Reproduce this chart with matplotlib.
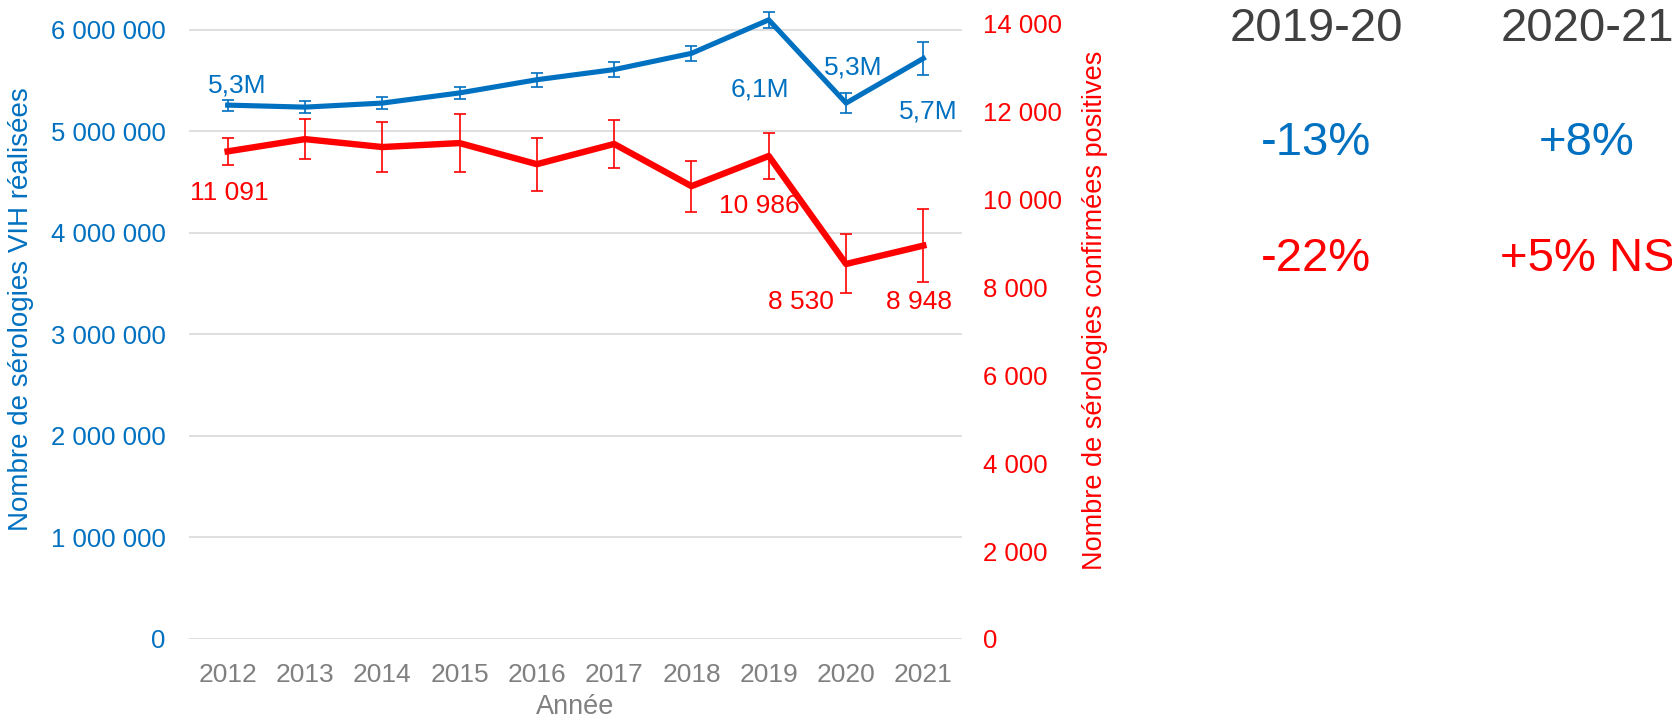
import matplotlib
matplotlib.use('Agg')
import matplotlib.pyplot as plt
from matplotlib.ticker import FuncFormatter, MultipleLocator

plt.rcParams['font.family'] = ['Liberation Sans', 'DejaVu Sans']

BLUE = '#0070C0'
RED = '#FF0000'
GRAY = '#808080'
DARK = '#404040'

years = [2012, 2013, 2014, 2015, 2016, 2017, 2018, 2019, 2020, 2021]
tests = [5.26e6, 5.24e6, 5.28e6, 5.38e6, 5.51e6, 5.61e6, 5.77e6, 6.10e6, 5.28e6, 5.72e6]
tests_err = [54e3, 60e3, 55e3, 57e3, 69e3, 74e3, 77e3, 77e3, 95e3, 161e3]
positives = [11091, 11370, 11190, 11280, 10800, 11260, 10300, 10986, 8530, 8948]
positives_err = [303, 447, 569, 667, 599, 553, 580, 520, 671, 823]

# labelled points: (year, text, offset in pixels)
blue_labels = [(2012, '5,3M', (10, 20)), (2019, '6,1M', (-9, -70)),
               (2020, '5,3M', (7, 36)), (2021, '5,7M', (5, -53))]
red_labels = [(2012, (2, -42)), (2019, (-9, -50)), (2020, (-45, -38)), (2021, (-4, -56))]

periods = ['2019-20', '2020-21']
change_tests = ['-13%', '+8%']
change_pos = ['-22%', '+5% NS']


def spaced(v, pos=None):
    return f'{int(round(v)):,}'.replace(',', ' ')


fig = plt.figure(figsize=(16.72, 7.21), dpi=100)
ax = fig.add_axes([189 / 1672, 82 / 721, 773 / 1672, 615.5 / 721])
ax2 = ax.twinx()

eb1 = ax.errorbar(years, tests, yerr=tests_err, color=BLUE, lw=3.7, ecolor=BLUE,
                  elinewidth=1.2, capsize=4, capthick=1.2, zorder=3)
eb2 = ax2.errorbar(years, positives, yerr=positives_err, color=RED, lw=4.6, ecolor=RED,
                   elinewidth=1.2, capsize=4, capthick=1.2, zorder=3)
for eb in (eb1, eb2):
    for art in eb.get_children():
        art.set_clip_on(False)

ax.set_xlim(2011.5, 2021.5)
ax.set_ylim(0, 6.064e6)
ax2.set_ylim(0, 14000)
ax.yaxis.set_major_locator(MultipleLocator(1e6))
ax2.yaxis.set_major_locator(MultipleLocator(2000))
ax.yaxis.set_major_formatter(FuncFormatter(spaced))
ax2.yaxis.set_major_formatter(FuncFormatter(spaced))
ax.set_xticks(years)

ax.grid(axis='y', color='#d9d9d9', lw=1.2)
ax.set_axisbelow(True)
for a in (ax, ax2):
    for s in a.spines.values():
        s.set_visible(False)

ax.tick_params(axis='y', length=0, pad=17, labelsize=18.5, labelcolor=BLUE)
ax.tick_params(axis='x', length=0, pad=17, labelsize=19, labelcolor=GRAY)
ax2.tick_params(axis='y', length=0, pad=15, labelsize=18.5, labelcolor=RED)

ax.set_xlabel('Année', fontsize=19.5, color=GRAY, labelpad=5)
ax.set_ylabel('Nombre de sérologies VIH réalisées', fontsize=20, color=BLUE)
ax2.set_ylabel('Nombre de sérologies confirmées positives', fontsize=19.5, color=RED)
ax.yaxis.set_label_coords(34 / 1672, 1 - 309 / 721, transform=fig.transFigure)
ax2.yaxis.set_label_coords(1082 / 1672, 1 - 310 / 721, transform=fig.transFigure)

for yr, txt, off in blue_labels:
    i = years.index(yr)
    ax.annotate(txt, (yr, tests[i]), xytext=off, textcoords='offset pixels',
                ha='center', va='center', fontsize=19, color=BLUE,
                annotation_clip=False)
for yr, off in red_labels:
    i = years.index(yr)
    ax2.annotate(spaced(positives[i]), (yr, positives[i]), xytext=off,
                 textcoords='offset pixels', ha='center', va='center',
                 fontsize=19, color=RED, annotation_clip=False)

col_x = [1316 / 1672, 1587 / 1672]
for x, p, ct, cp in zip(col_x, periods, change_tests, change_pos):
    fig.text(x, 1 - 29 / 721, p, ha='center', va='center', fontsize=34, color=DARK)
    fig.text(x, 1 - 143 / 721, ct, ha='center', va='center', fontsize=34, color=BLUE)
    fig.text(x, 1 - 259 / 721, cp, ha='center', va='center', fontsize=34, color=RED)

fig.savefig('out.png', dpi=100)
